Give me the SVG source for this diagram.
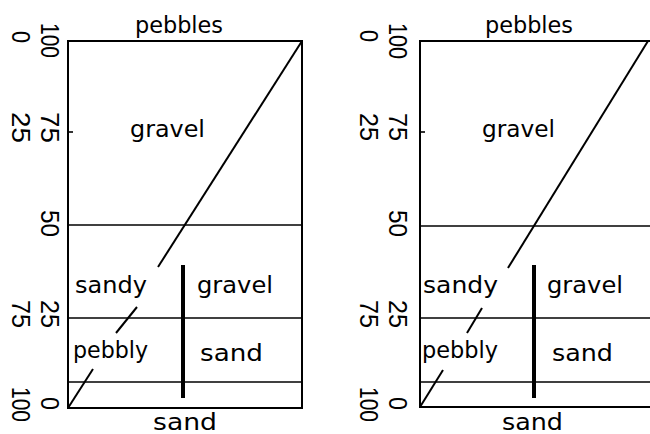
<svg xmlns="http://www.w3.org/2000/svg" width="650" height="434" viewBox="0 0 650 434">
<style>
.bg{fill:#fff}
.box{fill:none;stroke:#000;stroke-width:2}
.h{stroke:#000;stroke-width:1.6}
.d{stroke:#000;stroke-width:2;fill:none}
.thick{stroke:#000;stroke-width:4}
.lbl{font-family:"DejaVu Sans","Liberation Sans",sans-serif;font-size:23px;fill:#000}
.num{font-family:"Liberation Sans","DejaVu Sans",sans-serif;font-size:26px;fill:#000}
</style>
<rect class="bg" x="0" y="0" width="650" height="434"/>
<g id="left-panel">
  <g id="left-frame">
    <rect class="box" x="68" y="41" width="234" height="367"/>
    <line class="h" x1="68" y1="225" x2="302" y2="225"/>
    <line class="h" x1="68" y1="318" x2="302" y2="318"/>
    <line class="h" x1="68" y1="382" x2="302" y2="382"/>
    <line class="h" x1="68" y1="132" x2="73" y2="132"/>
  </g>
  <g id="left-connectors">
    <line class="d" x1="302" y1="41" x2="158" y2="267"/>
    <line class="d" x1="137" y1="307" x2="116" y2="333"/>
    <line class="d" x1="93" y1="369" x2="68" y2="408"/>
    <line class="thick" x1="183" y1="265" x2="183" y2="398"/>
  </g>
  <g id="left-labels">
    <text class="lbl" x="135" y="33" textLength="88" lengthAdjust="spacingAndGlyphs">pebbles</text>
    <text class="lbl" x="130" y="137" textLength="75" lengthAdjust="spacingAndGlyphs">gravel</text>
    <text class="lbl" x="75" y="293" textLength="72" lengthAdjust="spacingAndGlyphs">sandy</text>
    <text class="lbl" x="197" y="293" textLength="76" lengthAdjust="spacingAndGlyphs">gravel</text>
    <text class="lbl" x="73" y="358" textLength="75" lengthAdjust="spacingAndGlyphs">pebbly</text>
    <text class="lbl" x="200" y="361" textLength="63" lengthAdjust="spacingAndGlyphs">sand</text>
    <text class="lbl" x="153" y="430" textLength="64" lengthAdjust="spacingAndGlyphs">sand</text>
  </g>
  <g id="left-axis">
    <text class="num" transform="translate(41,23) rotate(90)" textLength="35" lengthAdjust="spacingAndGlyphs">100</text>
    <text class="num" transform="translate(12,31) rotate(90)" textLength="12" lengthAdjust="spacingAndGlyphs">0</text>
    <text class="num" transform="translate(12,112) rotate(90)" textLength="31" lengthAdjust="spacingAndGlyphs">25</text>
    <text class="num" transform="translate(41,112) rotate(90)" textLength="31" lengthAdjust="spacingAndGlyphs">75</text>
    <text class="num" transform="translate(41,210) rotate(90)" textLength="27" lengthAdjust="spacingAndGlyphs">50</text>
    <text class="num" transform="translate(12,300) rotate(90)" textLength="28" lengthAdjust="spacingAndGlyphs">75</text>
    <text class="num" transform="translate(41,300) rotate(90)" textLength="28" lengthAdjust="spacingAndGlyphs">25</text>
    <text class="num" transform="translate(12,387) rotate(90)" textLength="35" lengthAdjust="spacingAndGlyphs">100</text>
    <text class="num" transform="translate(41,397) rotate(90)" textLength="13" lengthAdjust="spacingAndGlyphs">0</text>
  </g>
</g>
<g id="right-panel">
  <g id="right-frame">
    <polyline class="box" points="652,41 420,41 420,407 652,407"/>
    <line class="h" x1="420" y1="226" x2="652" y2="226"/>
    <line class="h" x1="420" y1="318" x2="652" y2="318"/>
    <line class="h" x1="420" y1="382" x2="652" y2="382"/>
    <line class="h" x1="420" y1="132" x2="425" y2="132"/>
  </g>
  <g id="right-connectors">
    <line class="d" x1="648" y1="41" x2="508" y2="268"/>
    <line class="d" x1="482" y1="308" x2="467" y2="333"/>
    <line class="d" x1="443" y1="370" x2="420" y2="407"/>
    <line class="thick" x1="534" y1="265" x2="534" y2="398"/>
  </g>
  <g id="right-labels">
    <text class="lbl" x="485" y="33" textLength="88" lengthAdjust="spacingAndGlyphs">pebbles</text>
    <text class="lbl" x="482" y="137" textLength="73" lengthAdjust="spacingAndGlyphs">gravel</text>
    <text class="lbl" x="423" y="293" textLength="75" lengthAdjust="spacingAndGlyphs">sandy</text>
    <text class="lbl" x="547" y="293" textLength="76" lengthAdjust="spacingAndGlyphs">gravel</text>
    <text class="lbl" x="422" y="358" textLength="76" lengthAdjust="spacingAndGlyphs">pebbly</text>
    <text class="lbl" x="552" y="361" textLength="61" lengthAdjust="spacingAndGlyphs">sand</text>
    <text class="lbl" x="502" y="430" textLength="61" lengthAdjust="spacingAndGlyphs">sand</text>
  </g>
  <g id="right-axis">
    <text class="num" transform="translate(389,23) rotate(90)" textLength="36" lengthAdjust="spacingAndGlyphs">100</text>
    <text class="num" transform="translate(360,30) rotate(90)" textLength="12" lengthAdjust="spacingAndGlyphs">0</text>
    <text class="num" transform="translate(360,113) rotate(90)" textLength="28" lengthAdjust="spacingAndGlyphs">25</text>
    <text class="num" transform="translate(389,113) rotate(90)" textLength="28" lengthAdjust="spacingAndGlyphs">75</text>
    <text class="num" transform="translate(389,210) rotate(90)" textLength="27" lengthAdjust="spacingAndGlyphs">50</text>
    <text class="num" transform="translate(360,300) rotate(90)" textLength="28" lengthAdjust="spacingAndGlyphs">75</text>
    <text class="num" transform="translate(389,300) rotate(90)" textLength="28" lengthAdjust="spacingAndGlyphs">25</text>
    <text class="num" transform="translate(360,387) rotate(90)" textLength="35" lengthAdjust="spacingAndGlyphs">100</text>
    <text class="num" transform="translate(389,397) rotate(90)" textLength="13" lengthAdjust="spacingAndGlyphs">0</text>
  </g>
</g>
</svg>
